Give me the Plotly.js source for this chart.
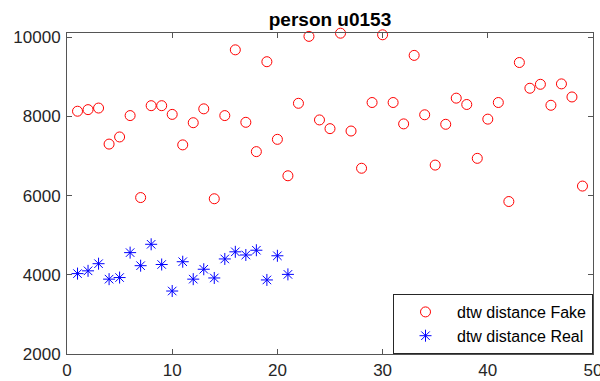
<!DOCTYPE html>
<html>
<head>
<meta charset="utf-8">
<script src="https://cdn.plot.ly/plotly-3.0.1.min.js"></script>
<style>html,body{margin:0;padding:0;background:#fff;}#chart{width:600px;height:381px;}</style>
</head>
<body>
<div id="chart"></div>
<script>
var chartTitle = "person u0153";
var fakeName = "dtw distance Fake";
var realName = "dtw distance Real";

var fakeX = [1,2,3,4,5,6,7,8,9,10,11,12,13,14,15,16,17,18,19,20,21,22,23,24,25,26,27,28,29,30,31,32,33,34,35,36,37,38,39,40,41,42,43,44,45,46,47,48,49];
var fakeY = [8130,8170,8210,7300,7480,8020,5950,8270,8270,8050,7280,7840,8190,5920,8020,9680,7850,7110,9380,7420,6500,8330,10020,7910,7690,10100,7630,6690,8350,10060,8350,7810,9540,8040,6770,7800,8460,8300,6940,7930,8350,5850,9360,8710,8810,8280,8820,8490,6240];

var realX = [1,2,3,4,5,6,7,8,9,10,11,12,13,14,15,16,17,18,19,20,21];
var realY = [4030,4100,4280,3890,3930,4560,4230,4770,4260,3590,4330,3890,4140,3920,4400,4580,4500,4620,3870,4480,4010];

var xTicks = [0,10,20,30,40,50];
var yTicks = [2000,4000,6000,8000,10000];

var fontFam = "Liberation Sans, Arial, Helvetica, sans-serif";

var traces = [
  {x: fakeX, y: fakeY, name: fakeName, type: "scatter", mode: "markers", cliponaxis: false,
   marker: {symbol: "circle-open", size: 10, color: "#ff0000", line: {color: "#ff0000", width: 1}}},
  {x: realX, y: realY, name: realName, type: "scatter", mode: "markers", cliponaxis: false,
   marker: {symbol: "asterisk-open", size: 10, color: "#0000ff", line: {color: "#0000ff", width: 1}}}
];

var axisCommon = {
  showline: true, linecolor: "#555555", linewidth: 1, mirror: "ticks",
  ticks: "inside", ticklen: 5, tickwidth: 1, tickcolor: "#555555",
  showgrid: false, zeroline: false, ticklabeloverflow: "allow",
  tickfont: {family: fontFam, size: 17, color: "#262626"}
};

var layout = {
  width: 600, height: 381,
  margin: {l: 66.5, r: 6.7, t: 33.3, b: 26.7},
  paper_bgcolor: "#ffffff", plot_bgcolor: "#ffffff",
  title: {text: "<b>" + chartTitle + "</b>", font: {family: fontFam, size: 19, color: "#000000"},
          xref: "paper", x: 0.5, xanchor: "center", y: 0.95, yanchor: "middle"},
  xaxis: Object.assign({}, axisCommon, {range: [0, 50], tickvals: xTicks, ticktext: xTicks.map(String), ticklabelstandoff: 1}),
  yaxis: Object.assign({}, axisCommon, {range: [2000, 10105], tickvals: yTicks, ticktext: yTicks.map(String), ticklabelstandoff: 2}),
  showlegend: true,
  legend: {x: 1, xanchor: "right", y: 0, yanchor: "bottom", bgcolor: "#ffffff",
           bordercolor: "#262626", borderwidth: 1, itemwidth: 53,
           font: {family: fontFam, size: 16, color: "#000000"}}
};

Plotly.newPlot("chart", traces, layout, {displayModeBar: false, staticPlot: true});
</script>
</body>
</html>
